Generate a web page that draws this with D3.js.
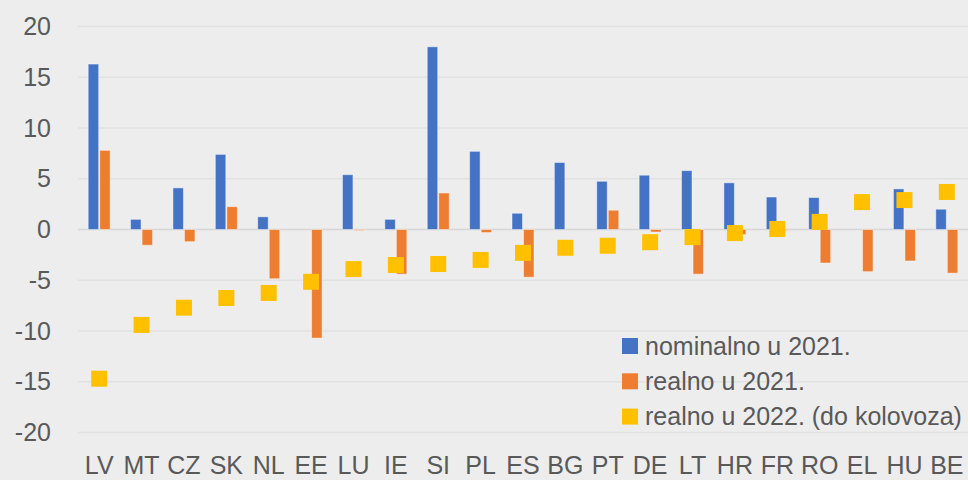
<!DOCTYPE html>
<html>
<head>
<meta charset="utf-8">
<script src="https://cdn.jsdelivr.net/npm/d3@7"></script>
<style>
  body { margin: 0; background: #ededed; }
  svg { display: block; }
  text { font-family: "Liberation Sans", Arial, sans-serif; fill: #595959; }
</style>
</head>
<body>
<script>
// data
var categories = ['LV', 'MT', 'CZ', 'SK', 'NL', 'EE', 'LU', 'IE', 'SI', 'PL', 'ES',
                  'BG', 'PT', 'DE', 'LT', 'HR', 'FR', 'RO', 'EL', 'HU', 'BE'];
var nominal2021 = [16.3, 1.0, 4.1, 7.4, 1.25, 0, 5.4, 1.0, 18.0, 7.7, 1.6,
                   6.6, 4.75, 5.35, 5.8, 4.6, 3.2, 3.15, 0, 4.0, 2.0];
var real2021 = [7.8, -1.55, -1.2, 2.25, -4.85, -10.7, -0.1, -4.4, 3.6, -0.3, -4.7,
                0, 1.9, -0.25, -4.4, -0.5, -0.1, -3.3, -4.15, -3.1, -4.3];
var real2022 = [-14.7, -9.4, -7.7, -6.75, -6.25, -5.15, -3.9, -3.5, -3.4, -3.0, -2.3,
                -1.8, -1.6, -1.25, -0.75, -0.35, 0.05, 0.75, 2.7, 2.9, 3.7];
var yTicks = [-20, -15, -10, -5, 0, 5, 10, 15, 20];
var seriesNames = ['nominalno u 2021.', 'realno u 2021.', 'realno u 2022. (do kolovoza)'];
var seriesColors = ['#4472c4', '#ed7d31', '#ffc000'];

var w = 968,
    h = 480,
    fontSize = 25;

var svg = d3.select('body')
    .append('svg')
    .attr('width', w)
    .attr('height', h);

svg.append('rect')
    .attr('width', w)
    .attr('height', h)
    .attr('fill', '#ededed');

var x = d3.scaleBand()
    .domain(categories)
    .range([78, 968])
    .paddingInner(0)
    .paddingOuter(0);

var y = d3.scaleLinear()
    .domain([-20, 20])
    .range([432.5, 26.5]);

// inner scale for the two bar series
var x1 = d3.scaleBand()
    .domain([0, 1])
    .range([x.bandwidth() / 2 - 11, x.bandwidth() / 2 + 11])
    .paddingInner(0.09);

// grid
svg.append('g')
    .selectAll('line')
    .data(yTicks)
    .join('line')
    .attr('x1', 78)
    .attr('x2', w)
    .attr('y1', function(d) { return y(d); })
    .attr('y2', function(d) { return y(d); })
    .attr('stroke', function(d) { return d === 0 ? '#d6d6d6' : '#e1e1e1'; })
    .attr('stroke-width', 1.6);

// y axis labels (plain hyphen for negatives)
var yAxis = d3.axisLeft(y)
    .tickValues(yTicks)
    .tickFormat(function(d) { return String(d); })
    .tickSize(0)
    .tickPadding(0);
var ya = svg.append('g')
    .attr('transform', 'translate(51,0)')
    .call(yAxis);
ya.select('.domain').remove();
ya.selectAll('text')
    .attr('font-size', fontSize)
    .attr('font-family', '"Liberation Sans", Arial, sans-serif')
    .attr('fill', '#595959');

// x axis labels
var xAxis = d3.axisBottom(x)
    .tickSize(0)
    .tickPadding(0);
var xa = svg.append('g')
    .attr('transform', 'translate(0,456)')
    .call(xAxis);
xa.select('.domain').remove();
xa.selectAll('text')
    .attr('font-size', fontSize)
    .attr('font-family', '"Liberation Sans", Arial, sans-serif')
    .attr('fill', '#595959');

// bars
[nominal2021, real2021].forEach(function(vals, s) {
    svg.append('g')
        .selectAll('rect')
        .data(vals)
        .join('rect')
        .attr('x', function(d, i) { return x(categories[i]) + x1(s); })
        .attr('width', x1.bandwidth())
        .attr('y', function(d) { return y(Math.max(0, d)); })
        .attr('height', function(d) { return Math.abs(y(d) - y(0)); })
        .attr('fill', seriesColors[s])
        .attr('stroke', 'rgba(255,255,255,0.45)')
        .attr('stroke-width', 1);
});

// 2022 markers
var ms = 16;
svg.append('g')
    .selectAll('rect')
    .data(real2022)
    .join('rect')
    .attr('x', function(d, i) { return x(categories[i]) + x.bandwidth() / 2 - ms / 2; })
    .attr('y', function(d) { return y(d) - ms / 2; })
    .attr('width', ms)
    .attr('height', ms)
    .attr('fill', seriesColors[2]);

// legend
var legend = svg.append('g')
    .attr('transform', 'translate(622,346)');
var items = legend.selectAll('g')
    .data(seriesNames)
    .join('g')
    .attr('transform', function(d, i) { return 'translate(0,' + (i * 35.3) + ')'; });
items.append('rect')
    .attr('x', 0)
    .attr('y', -8)
    .attr('width', 16)
    .attr('height', 16)
    .attr('fill', function(d, i) { return seriesColors[i]; });
items.append('text')
    .attr('x', 23)
    .attr('y', 0)
    .attr('dy', '0.35em')
    .attr('font-size', fontSize)
    .text(function(d) { return d; });
</script>
</body>
</html>
